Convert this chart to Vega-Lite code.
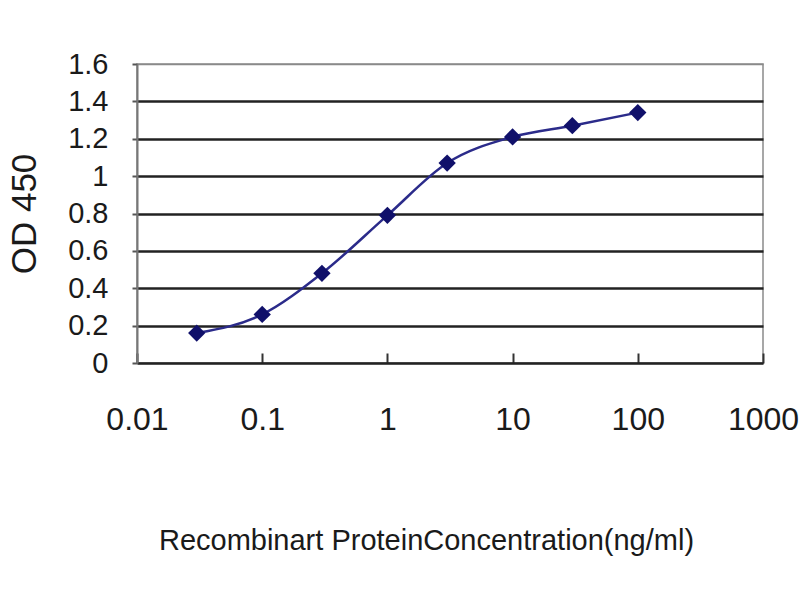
{
  "$schema": "https://vega.github.io/schema/vega-lite/v6.json",
  "autosize": "none",
  "width": 626,
  "height": 299,
  "padding": {"left": 137, "top": 64, "right": 37, "bottom": 237},
  "background": "white",
  "config": {
    "view": {"stroke": "#8a8a8a", "strokeWidth": 1.5}
  },
  "data": {
    "values": [
      {"conc": 0.03, "od": 0.16},
      {"conc": 0.1, "od": 0.26},
      {"conc": 0.3, "od": 0.48},
      {"conc": 1, "od": 0.79},
      {"conc": 3, "od": 1.07},
      {"conc": 10, "od": 1.21},
      {"conc": 30, "od": 1.27},
      {"conc": 100, "od": 1.34}
    ]
  },
  "encoding": {
    "x": {
      "field": "conc",
      "type": "quantitative",
      "scale": {"type": "log", "domain": [0.01, 1000], "nice": false},
      "axis": {
        "title": "Recombinart ProteinConcentration(ng/ml)",
        "titleFont": "Liberation Sans",
        "titleFontSize": 29,
        "titleFontWeight": "normal",
        "titleColor": "#1a1a1a",
        "titleX": 289,
        "titleY": 177,
        "titleBaseline": "middle",
        "values": [0.01, 0.1, 1, 10, 100, 1000],
        "labelExpr": "datum.value < 0.05 ? '0.01' : datum.value < 0.5 ? '0.1' : format(datum.value, 'd')",
        "labelFont": "Liberation Sans",
        "labelFontSize": 32,
        "labelColor": "#1a1a1a",
        "labelBaseline": "middle",
        "labelPadding": 66,
        "labelFlush": false,
        "labelOverlap": false,
        "grid": false,
        "domainColor": "#222222",
        "domainWidth": 2.5,
        "tickColor": "#333333",
        "tickWidth": 2,
        "tickSize": -10
      }
    },
    "y": {
      "field": "od",
      "type": "quantitative",
      "scale": {"domain": [0, 1.6], "nice": false},
      "axis": {
        "title": "OD 450",
        "titleFont": "Liberation Sans",
        "titleFontSize": 35,
        "titleFontWeight": "normal",
        "titleColor": "#1a1a1a",
        "titleX": -113,
        "titleBaseline": "middle",
        "values": [0, 0.2, 0.4, 0.6, 0.8, 1, 1.2, 1.4, 1.6],
        "labelExpr": "format(datum.value, '~g')",
        "labelFont": "Liberation Sans",
        "labelFontSize": 29,
        "labelColor": "#1a1a1a",
        "labelPadding": 24,
        "labelFlush": false,
        "labelOverlap": false,
        "grid": true,
        "gridColor": {"condition": {"test": "datum.value >= 1.55 || datum.value <= 0.05", "value": "#8a8a8a"}, "value": "#222222"},
        "gridWidth": {"condition": {"test": "datum.value >= 1.55 || datum.value <= 0.05", "value": 1.5}, "value": 2.5},
        "domainColor": "#777777",
        "domainWidth": 2,
        "tickColor": "#555555",
        "tickWidth": 2,
        "tickSize": 5
      }
    }
  },
  "layer": [
    {
      "mark": {"type": "line", "interpolate": "monotone", "color": "#2b2b8a", "strokeWidth": 2.5}
    },
    {
      "mark": {"type": "point", "shape": "diamond", "filled": true, "size": 300, "color": "#10106a", "opacity": 1}
    }
  ]
}
